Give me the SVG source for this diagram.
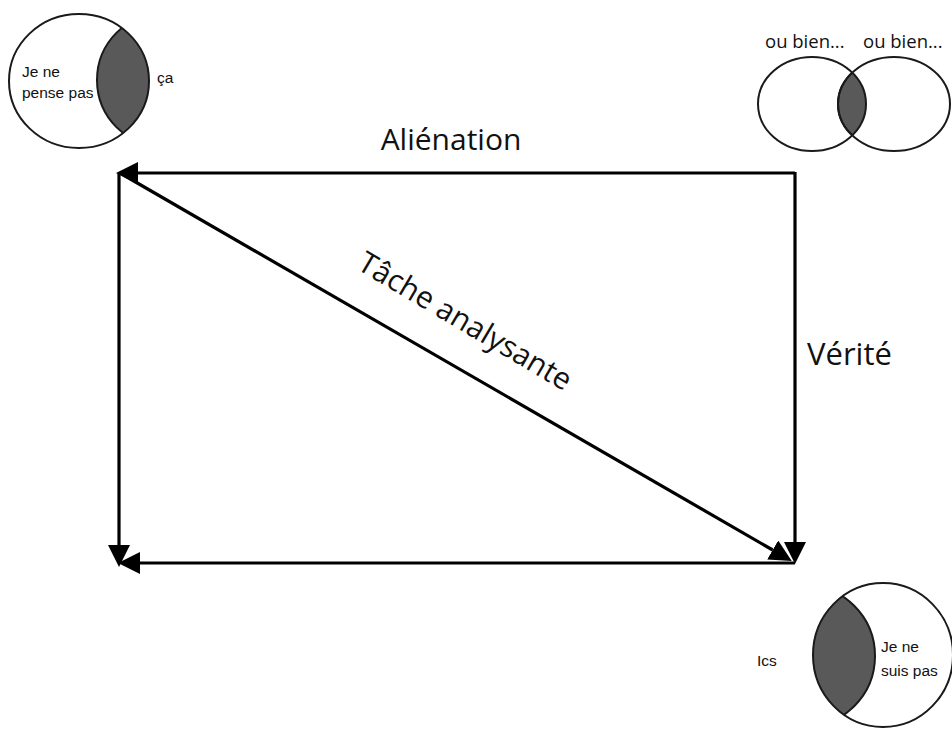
<svg xmlns="http://www.w3.org/2000/svg" width="952" height="729" viewBox="0 0 952 729">
<style>
.ln{stroke:#000;stroke-width:3.2;fill:none}
.circ{fill:none;stroke:#1a1a1a;stroke-width:2}
.lens{fill:#595959;stroke:#1a1a1a;stroke-width:2}
.big{font-family:"Open Sans","Noto Sans",sans-serif;font-size:30px;fill:#111}
.small{font-family:"Liberation Sans",Arial,sans-serif;font-size:15.5px;fill:#111}
.ou{font-family:"Open Sans","Noto Sans",sans-serif;font-size:18.5px;fill:#111}
</style>
<defs>
<marker id="ah" markerUnits="userSpaceOnUse" markerWidth="22" markerHeight="22" viewBox="0 0 20 20" refX="0" refY="10" orient="auto">
<path d="M0,0 L20,10 L0,20 z" fill="#000"/>
</marker>
<clipPath id="cTL"><ellipse cx="79" cy="81" rx="70" ry="67"/></clipPath>
<clipPath id="cTR"><ellipse cx="812" cy="104" rx="54" ry="47"/></clipPath>
<clipPath id="cBR"><ellipse cx="883" cy="655" rx="70" ry="72"/></clipPath>
</defs>
<rect width="952" height="729" fill="#fff"/>

<g id="connectors">
<line class="ln" x1="795" y1="173" x2="138" y2="173" marker-end="url(#ah)"/>
<line class="ln" x1="119" y1="173" x2="119" y2="545" marker-end="url(#ah)"/>
<line class="ln" x1="795" y1="563" x2="140" y2="563" marker-end="url(#ah)"/>
<line class="ln" x1="795" y1="172" x2="795" y2="542" marker-end="url(#ah)"/>
<line class="ln" x1="120" y1="173" x2="772.7" y2="550" marker-end="url(#ah)"/>
</g>

<g id="label-alienation"><text class="big" x="451" y="150" text-anchor="middle">Aliénation</text></g>
<g id="label-verite"><text class="big" x="807" y="365" style="font-size:31px">Vérité</text></g>
<g id="label-tache"><text class="big" x="460" y="330" text-anchor="middle" transform="rotate(30.5 460 330)">Tâche analysante</text></g>

<g id="venn-top-left">
<ellipse class="lens" cx="164" cy="80" rx="67" ry="67" clip-path="url(#cTL)"/>
<ellipse class="circ" cx="79" cy="81" rx="70" ry="67"/>
<text class="small" x="22" y="77">Je ne</text>
<text class="small" x="22" y="98">pense pas</text>
<text class="small" x="157" y="83">ça</text>
</g>

<g id="venn-top-right">
<ellipse class="lens" cx="894" cy="104" rx="56" ry="47" clip-path="url(#cTR)"/>
<ellipse class="circ" cx="812" cy="104" rx="54" ry="47"/>
<ellipse class="circ" cx="894" cy="104" rx="56" ry="47"/>
<text class="ou" x="765" y="48">ou bien...</text>
<text class="ou" x="863" y="48">ou bien...</text>
</g>

<g id="venn-bottom-right">
<ellipse class="lens" cx="804" cy="656" rx="71" ry="71" clip-path="url(#cBR)"/>
<ellipse class="circ" cx="883" cy="655" rx="70" ry="72"/>
<text class="small" x="757" y="666">Ics</text>
<text class="small" x="881" y="652">Je ne</text>
<text class="small" x="881" y="676">suis pas</text>
</g>
</svg>
